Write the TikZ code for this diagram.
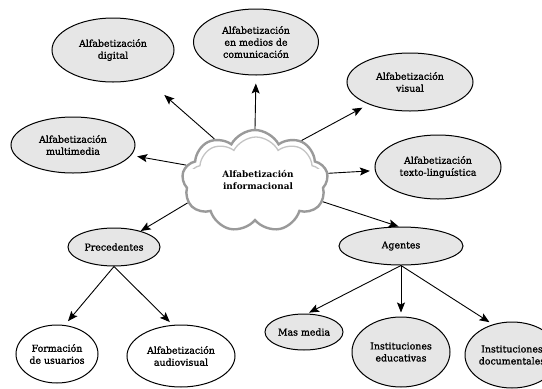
\documentclass[tikz,border=0pt]{standalone}
\usepackage{fontspec}
\setmainfont{DejaVu Serif}
\newfontfamily\semi{DejaVu Serif}[FakeBold=1.3]
\usetikzlibrary{shapes.geometric,shapes.symbols,arrows.meta}
\definecolor{ellgray}{HTML}{E6E6E6}
\definecolor{cloudline}{HTML}{9A9A9A}
\definecolor{cloudlight}{HTML}{C4C4C4}
\begin{document}
\begin{tikzpicture}[x=1pt,y=-1pt,
  bubble/.style={ellipse,draw=black,line width=1pt,fill=ellgray,inner sep=0pt,
    align=center,font=\semi\fontsize{9.4}{12}\selectfont},
  plain/.style={bubble,fill=white},
  link/.style={line width=0.9pt,-{Stealth[length=10pt,width=8pt,inset=2pt]}},
  puffy/.style={cloud,cloud puffs=9,cloud puff arc=125,aspect=1.45,inner sep=0pt,
    minimum width=146pt,minimum height=102pt}]
\useasboundingbox (0,0) rectangle (542,389);

% central cloud with a soft embossed rim
\node[puffy,draw=cloudline,line width=2.4pt,fill=white] (cloud) at (255,181) {};
\begin{scope}
  \clip (150,120) rectangle (360,168);
  \node[puffy,draw=cloudlight,line width=1.3pt,minimum width=136pt,minimum height=92pt] at (256,183) {};
\end{scope}
\node[align=center,font=\bfseries\fontsize{8.9}{12}\selectfont] (ctext) at (258,180) {Alfabetización\\informacional};

% surrounding literacies
\node[bubble,minimum width=122pt,minimum height=64pt] (dig) at (113,50) {Alfabetización\\digital};
\node[bubble,minimum width=124pt,minimum height=56pt] (mm) at (73,145) {Alfabetización\\multimedia};
\node[bubble,minimum width=125pt,minimum height=66pt] (med) at (256,42) {Alfabetización\\en medios de\\comunicación};
\node[bubble,minimum width=126pt,minimum height=58pt] (vis) at (410,82) {Alfabetización\\visual};
\node[bubble,minimum width=126pt,minimum height=64pt] (tex) at (438,167) {Alfabetización\\texto-linguística};

% precedents branch
\node[bubble,minimum width=92pt,minimum height=38pt] (pre) at (114,247) {Precedentes};
\node[plain,minimum width=82pt,minimum height=58pt] (for) at (57,354) {Formación\\de usuarios};
\node[plain,minimum width=108pt,minimum height=62pt] (aud) at (181,356) {Alfabetización\\audiovisual};

% agents branch
\node[bubble,minimum width=124pt,minimum height=38pt] (ag) at (401,246) {Agentes};
\node[bubble,minimum width=78pt,minimum height=36pt] (mas) at (304,332) {Mas media};
\node[bubble,minimum width=98pt,minimum height=70pt] (edu) at (401,352) {Instituciones\\educativas};
\node[bubble,minimum width=94pt,minimum height=66pt] (doc) at (512,355) {Instituciones\\documentales};

% connectors
\draw[link,shorten >=26pt] (cloud.134) -- (dig);
\draw[link,shorten >=6pt] (cloud.167) -- (mm);
\draw[link,shorten >=8pt] (cloud.north) -- (med.south);
\draw[link,shorten >=7pt] (cloud.41) -- (vis);
\draw[link,shorten >=5pt] (cloud.6) -- (tex);
\draw[link] (cloud.198) -- (pre);
\draw[link] (cloud.-17) -- (ag.97);
\draw[link,shorten >=5pt] (pre.south) -- (for.75);
\draw[link,shorten >=4pt] (pre.south) -- (aud.105);
\draw[link,shorten >=2pt] (ag.south) -- (mas.80);
\draw[link,shorten >=4pt] (ag.south) -- (edu.north);
\draw[link,shorten >=4pt] (ag.south) -- (doc.122);
\end{tikzpicture}
\end{document}
